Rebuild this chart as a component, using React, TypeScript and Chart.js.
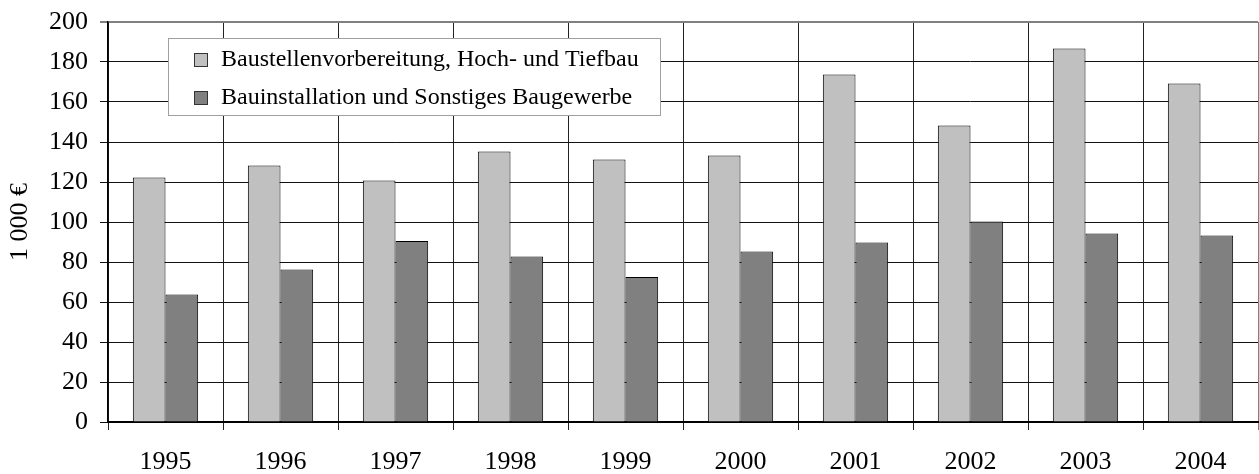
import React, { useEffect, useRef } from "react";
import { Chart, registerables } from "chart.js";

Chart.register(...registerables);

const years = ["1995", "1996", "1997", "1998", "1999", "2000", "2001", "2002", "2003", "2004"];
const seriesLabels = [
  "Baustellenvorbereitung, Hoch- und Tiefbau",
  "Bauinstallation und Sonstiges Baugewerbe",
];
const hochTiefbau = [122.3, 128.3, 120.8, 135.3, 131.3, 133.3, 173.8, 148.2, 186.8, 169.2];
const bauinstallation = [63.8, 76.2, 90.5, 82.8, 72.5, 85.3, 89.8, 100.3, 94.3, 93.3];
const yMin = 0;
const yMax = 200;
const yStep = 20;
const yTitle = "1 000 €";

const FONT = '"Liberation Serif", "Times New Roman", serif';

const boxLegend = {
  id: "boxLegend",
  afterDatasetsDraw(chart: any) {
    const { ctx, chartArea } = chart;
    const x = Math.round(chartArea.left + 60);
    const y = Math.round(chartArea.top + 16);
    const w = 492;
    const h = 77;
    ctx.save();
    ctx.fillStyle = "#ffffff";
    ctx.fillRect(x, y, w, h);
    ctx.strokeStyle = "#a0a0a0";
    ctx.lineWidth = 1;
    ctx.strokeRect(x + 0.5, y + 0.5, w, h);
    ctx.font = `24px ${FONT}`;
    ctx.textBaseline = "middle";
    ctx.textAlign = "left";
    chart.data.datasets.forEach((ds: any, i: number) => {
      const cy = Math.round(y + 21 + i * 37.7);
      ctx.fillStyle = ds.backgroundColor;
      ctx.fillRect(x + 26, cy - 6, 13, 13);
      ctx.strokeStyle = "#333333";
      ctx.strokeRect(x + 26.5, cy - 5.5, 13, 13);
      ctx.fillStyle = "#000000";
      ctx.fillText(ds.label, x + 53, cy + 1);
    });
    ctx.restore();
  },
};

export default function App() {
  const canvasRef = useRef<HTMLCanvasElement | null>(null);

  useEffect(() => {
    if (!canvasRef.current) return;
    const chart = new Chart(canvasRef.current, {
      type: "bar",
      data: {
        labels: years,
        datasets: [
          {
            label: seriesLabels[0],
            data: hochTiefbau,
            backgroundColor: "#C0C0C0",
            borderColor: "#000000",
            borderWidth: 1,
          },
          {
            label: seriesLabels[1],
            data: bauinstallation,
            backgroundColor: "#808080",
            borderColor: "#000000",
            borderWidth: 1,
          },
        ],
      },
      options: {
        responsive: false,
        animation: false,
        layout: { padding: { top: 22, right: 1, left: 0, bottom: 0 } },
        datasets: {
          bar: { categoryPercentage: 0.568, barPercentage: 1.0 },
        },
        plugins: {
          legend: { display: false },
          tooltip: { enabled: false },
        },
        scales: {
          x: {
            grid: {
              offset: true,
              color: (c: any) => (c.type === "scale" ? "#808080" : "#222222"),
              lineWidth: 1,
              tickLength: 8,
            },
            border: { color: "#000000", width: 2 },
            ticks: {
              color: "#000000",
              font: { family: FONT, size: 26 },
              padding: 17,
              maxRotation: 0,
            },
            afterFit: (s: any) => {
              s.height = 52;
            },
          },
          y: {
            min: yMin,
            max: yMax,
            ticks: {
              stepSize: yStep,
              color: "#000000",
              font: { family: FONT, size: 26, lineHeight: 0.7 },
              padding: 12,
            },
            grid: {
              color: (c: any) => (c.tick && c.tick.value === yMax ? "#808080" : "#111111"),
              lineWidth: (c: any) => (c.tick && c.tick.value === yMax ? 2 : 1),
              tickLength: 8,
            },
            border: { color: "#000000", width: 1.5 },
            title: {
              display: true,
              text: yTitle,
              color: "#000000",
              font: { family: FONT, size: 26 },
              padding: { top: 5, bottom: 0 },
            },
            afterFit: (s: any) => {
              s.width = 108;
            },
          },
        },
      },
      plugins: [boxLegend],
    });
    return () => chart.destroy();
  }, []);

  return (
    <div style={{ position: "absolute", left: 0, top: 0, width: 1259, height: 474, background: "#fff" }}>
      <canvas ref={canvasRef} width={1259} height={474} style={{ display: "block" }} />
    </div>
  );
}
